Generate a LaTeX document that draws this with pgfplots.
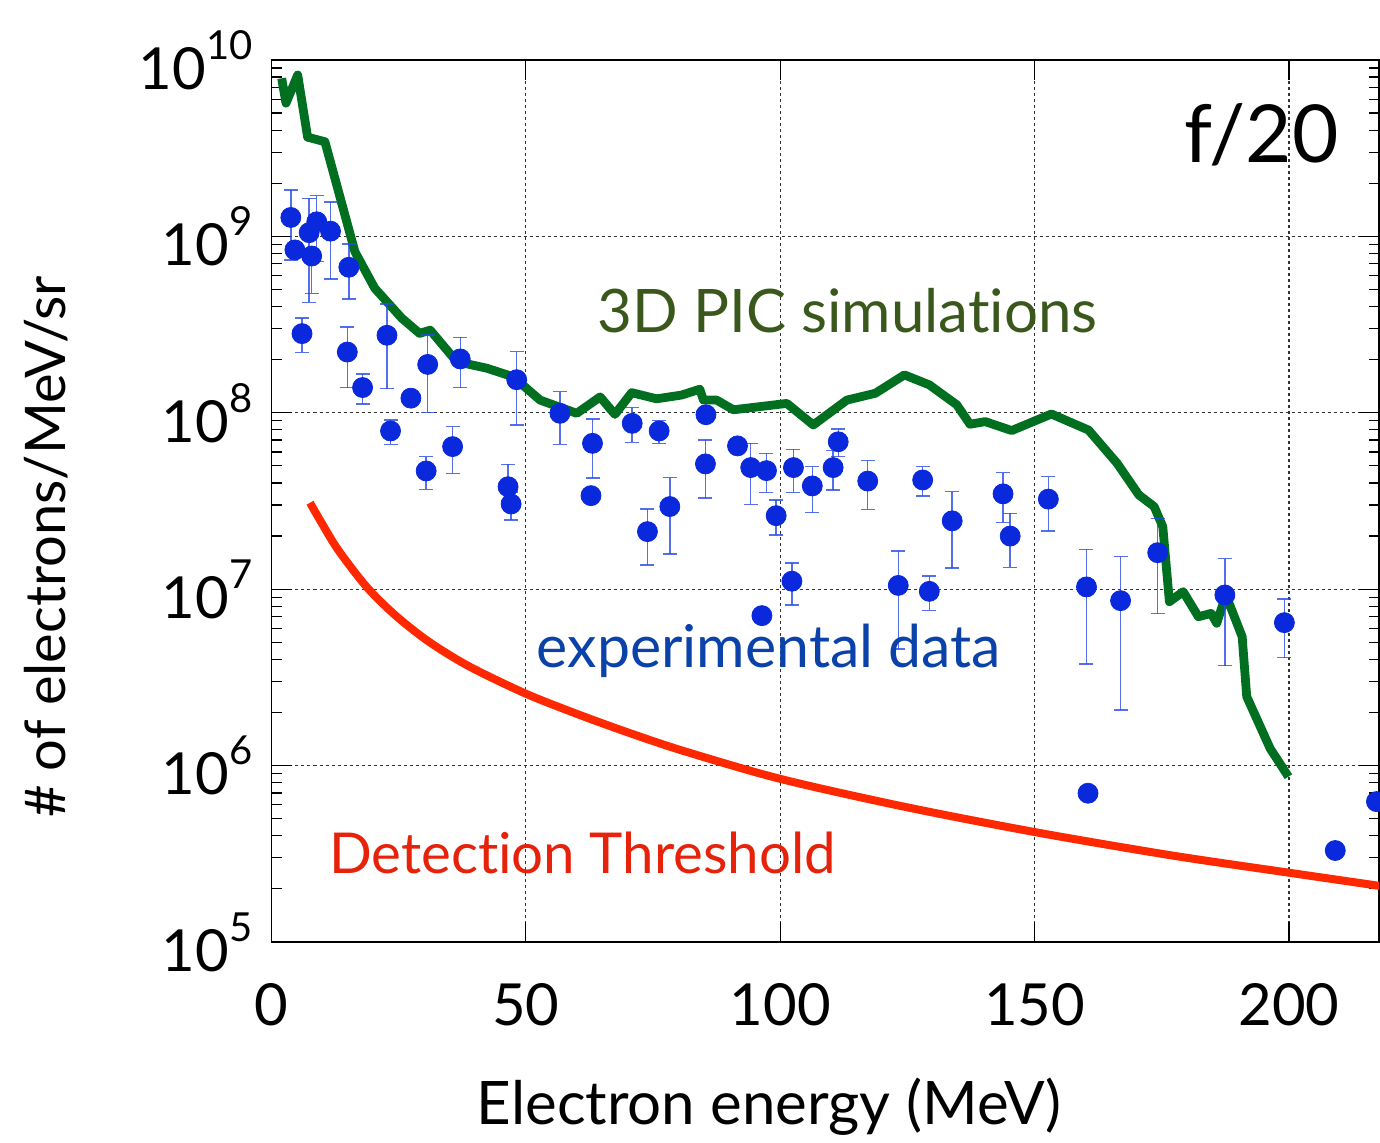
\documentclass[border=0pt]{standalone}
\usepackage{pgfplots}
\pgfplotsset{compat=1.18}
\usepackage{pgfplotstable}
\usepackage{fontspec}
\setmainfont{Lato}[Ligatures=NoCommon]

\definecolor{markblue}{RGB}{10,40,220}
\definecolor{barblue}{RGB}{40,75,230}
\definecolor{picgreen}{RGB}{0,112,32}
\definecolor{threshred}{RGB}{255,40,0}
\definecolor{txtgreen}{RGB}{58,88,28}
\definecolor{txtblue}{RGB}{10,66,170}
\definecolor{txtred}{RGB}{230,35,10}

\newcommand\tp[1]{10\raisebox{15pt}{\fontsize{20}{20}\selectfont #1}}

% measured spectrum: energy, value, upper and lower end of the error bar
\pgfplotstableread{
x      y       hi      lo
3.8    1.28e9  1.83e9  7.35e8
4.6    8.38e8  8.38e8  8.38e8
7.4    1.05e9  1.64e9  4.23e8
8.9    1.21e9  1.70e9  7.20e8
7.9    7.74e8  7.74e8  4.75e8
11.6   1.07e9  1.57e9  5.74e8
15.2   6.68e8  9.06e8  4.42e8
6.0    2.81e8  3.44e8  2.20e8
14.9   2.21e8  3.06e8  1.39e8
17.9   1.39e8  1.66e8  1.12e8
22.7   2.75e8  4.14e8  1.37e8
27.4   1.21e8  1.21e8  1.21e8
23.4   7.89e7  9.10e7  6.62e7
30.7   1.88e8  2.76e8  1.00e8
35.6   6.43e7  8.34e7  4.54e7
30.4   4.68e7  5.65e7  3.68e7
37.1   2.02e8  2.68e8  1.39e8
48.2   1.54e8  2.22e8  8.53e7
46.5   3.81e7  5.10e7  3.16e7
47.1   3.04e7  3.55e7  2.47e7
56.7   9.93e7  1.32e8  6.61e7
63.1   6.71e7  9.23e7  4.26e7
62.8   3.39e7  3.39e7  3.39e7
70.9   8.71e7  1.07e8  6.81e7
76.2   7.89e7  9.02e7  6.71e7
73.9   2.12e7  2.85e7  1.37e7
78.3   2.94e7  4.29e7  1.58e7
85.4   9.75e7  9.75e7  9.75e7
85.3   5.13e7  7.01e7  3.29e7
91.6   6.49e7  6.49e7  6.49e7
94.2   4.89e7  6.71e7  3.03e7
97.3   4.70e7  5.89e7  3.54e7
99.2   2.61e7  3.21e7  2.03e7
102.3  1.11e7  1.41e7  8.13e6
96.4   7.08e6  7.08e6  7.08e6
102.6  4.89e7  6.21e7  3.54e7
106.3  3.85e7  4.95e7  2.72e7
110.4  4.89e7  6.10e7  3.65e7
111.4  6.85e7  8.09e7  5.65e7
117.2  4.10e7  5.35e7  2.84e7
123.2  1.05e7  1.65e7  4.57e6
128.0  4.16e7  4.95e7  3.37e7
129.3  9.72e6  1.19e7  7.59e6
133.8  2.44e7  3.57e7  1.32e7
143.8  3.47e7  4.57e7  2.39e7
145.2  2.00e7  2.69e7  1.33e7
152.7  3.24e7  4.35e7  2.14e7
160.2  1.03e7  1.68e7  3.77e6
166.9  8.61e6  1.53e7  2.07e6
174.2  1.61e7  2.51e7  7.26e6
187.4  9.27e6  1.49e7  3.68e6
199.1  6.46e6  8.79e6  4.09e6
160.5  6.97e5  6.97e5  6.97e5
209.1  3.30e5  3.30e5  3.30e5
217.2  6.25e5  6.25e5  6.25e5
}\expdata

% 3D PIC spectrum
\pgfplotstableread{
x      y
2.0    7.87e9
2.85   5.69e9
5.15   8.22e9
7.1    3.65e9
10.5   3.44e9
16.4   8.18e8
20.3   5.08e8
25.6   3.44e8
29.1   2.82e8
31.2   2.94e8
36.4   1.95e8
42.3   1.79e8
47.5   1.60e8
52.8   1.18e8
60.0   9.93e7
64.6   1.23e8
67.5   9.79e7
70.8   1.30e8
75.7   1.20e8
80.6   1.26e8
84.2   1.36e8
84.9   1.18e8
87.5   1.18e8
90.8   1.04e8
101.3  1.13e8
106.5  8.53e7
113.1  1.18e8
118.7  1.29e8
124.4  1.64e8
129.3  1.44e8
134.7  1.11e8
137.3  8.61e7
140.3  8.91e7
145.5  7.93e7
153.3  9.84e7
160.6  7.98e7
166.2  5.18e7
170.5  3.42e7
173.5  2.94e7
175.2  2.26e7
176.5  8.49e6
179.2  9.68e6
182.2  6.98e6
184.7  7.29e6
185.8  6.41e6
187.6  9.27e6
190.8  5.38e6
191.7  2.46e6
196.3  1.25e6
199.9  8.65e5
}\picdata

% detection threshold
\pgfplotstableread{
x      y
7.57   3.09e7
9.87   2.37e7
13.1   1.67e7
18.7   1.03e7
24.3   7.13e6
30.8   5.07e6
38.7   3.67e6
49.8   2.57e6
60.3   1.95e6
70.1   1.54e6
81.0   1.21e6
100.0  8.41e5
124.2  5.86e5
150.0  4.20e5
176.8  3.10e5
200.0  2.47e5
217.8  2.08e5
}\threshdata

\begin{document}
\begin{tikzpicture}
\begin{axis}[
  at={(0,0)}, anchor=south west, scale only axis,
  width=553.75pt, height=441pt,
  xmin=0, xmax=217.7, ymin=1e5, ymax=1e10, ymode=log,
  xtick={0,50,100,150,200}, xticklabels={0,50,100,150,200},
  ytick={1e5,1e6,1e7,1e8,1e9,1e10},
  yticklabels={\tp{5},\tp{6},\tp{7},\tp{8},\tp{9},\tp{10}},
  tick align=inside, major tick length=10pt, minor tick length=5pt,
  grid=major,
  grid style={black!80, dash pattern=on 1.5pt off 1.5pt, line width=0.6pt},
  axis line style={line width=0.8pt},
  tick style={black, line width=0.6pt},
  ticklabel style={font=\fontsize{29}{30}\selectfont},
  xticklabel style={yshift=-17pt},
  yticklabel style={xshift=-6pt},
]
\addplot[threshred, line width=4pt, smooth] table[x=x, y=y] {\threshdata};
\addplot[picgreen, line width=4.4pt, line join=round] table[x=x, y=y] {\picdata};
\addplot[only marks, mark=*, mark size=5pt, mark options={markblue, draw=markblue, fill=markblue},
  error bars/.cd, y dir=both, y explicit,
  error bar style={barblue, line width=0.7pt, opacity=0.8},
  error mark options={rotate=90, mark size=3.5pt, barblue, line width=0.7pt}]
  table[x=x, y=y, y error plus expr=\thisrow{hi}-\thisrow{y}, y error minus expr=\thisrow{y}-\thisrow{lo}] {\expdata};
\end{axis}
\node[anchor=base, font=\fontsize{30}{32}\selectfont] at (248.75pt,-91.5pt) {Electron energy (MeV)};
\node[anchor=base, rotate=90, font=\fontsize{28}{30}\selectfont] at (-103pt,197.5pt) {\# of electrons/MeV/sr};
\node[anchor=base, font=\fontsize{40}{42}\selectfont] at (495pt,389.5pt) {f/20};
\node[anchor=base, txtgreen, font=\fontsize{30}{32}\selectfont] at (288pt,304.5pt) {3D PIC simulations};
\node[anchor=base, txtblue, font=\fontsize{29.5}{31}\selectfont] at (248.75pt,137pt) {experimental data};
\node[anchor=base, txtred, font=\fontsize{28.2}{30}\selectfont] at (155.5pt,34pt) {Detection Threshold};
\pgfresetboundingbox
\path[use as bounding box] (-135.75pt,-100.5pt) rectangle (554.25pt,471pt);
\end{tikzpicture}
\end{document}
